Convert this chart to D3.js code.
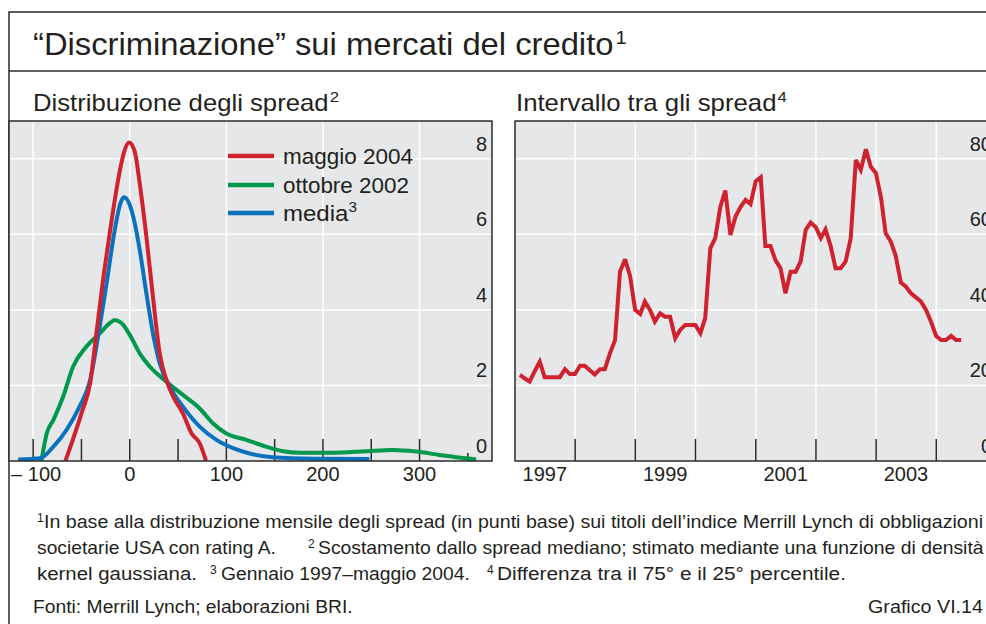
<!DOCTYPE html>
<html>
<head>
<meta charset="utf-8">
<script src="https://cdn.jsdelivr.net/npm/d3@7"></script>
<style>
  html, body { margin: 0; padding: 0; background: #ffffff; }
  svg { display: block; }
  text { font-family: "Liberation Sans", Arial, sans-serif; fill: #231f20; }
</style>
</head>
<body>
<svg id="chart" width="986" height="624"></svg>
<script>
// ---------------- DATA ----------------
// Left panel: kernel density of spreads (deviation from median, bp)
const mayX   = [-66.6, -50, -41, -34.5, -27.6, -20.7, -12, -6.2, -0.7, 5.2, 10.3, 17.2, 24, 31, 38, 45, 55, 64, 72.4, 79];
const mayY   = [0, 1.26, 2.06, 3.38, 4.8, 6.03, 7.44, 8.15, 8.43, 8.19, 7.35, 5.94, 4.35, 2.85, 2.14, 1.70, 1.26, 0.73, 0.47, 0];

const octX   = [-91.4, -86, -79, -69, -58.6, -44.8, -31, -20.7, -15.5, -8.6, 0, 10.3, 20.7, 38, 55, 72.4, 86, 100, 120.7, 141, 158.6, 176, 210, 245, 272, 296.5, 320.7, 341, 358.6];
const octY   = [0, 0.73, 1.09, 1.70, 2.50, 3.03, 3.38, 3.65, 3.73, 3.65, 3.34, 2.85, 2.50, 2.10, 1.75, 1.39, 1.00, 0.73, 0.56, 0.38, 0.26, 0.22, 0.22, 0.26, 0.29, 0.25, 0.16, 0.09, 0.04];

const avgX   = [-115.5, -93, -79, -65.5, -52, -41, -32.8, -24, -15.5, -9.7, -5.9, 0, 5.2, 10.3, 17.2, 24, 31, 41.4, 55, 72.4, 89.7, 107, 124, 148, 193, 248];
const avgY   = [0.04, 0.07, 0.38, 0.82, 1.44, 2.14, 3.29, 4.70, 6.12, 6.82, 6.98, 6.78, 6.29, 5.59, 4.44, 3.38, 2.59, 1.97, 1.44, 0.91, 0.56, 0.34, 0.20, 0.10, 0.06, 0.05];

const seriesNames = ["maggio 2004", "ottobre 2002", "media"];
const leftXTicks  = [-100, -50, 0, 50, 100, 150, 200, 250, 300, 350];
const leftXLabels = [-100, 0, 100, 200, 300];
const leftYTicks  = [0, 2, 4, 6, 8];

// Right panel: interquartile range of spreads, monthly Jan 1997 - May 2004
const iqrStart = [1997, 0];
const iqrValues = [
  22.8, 21.9, 21.0, 23.7, 26.3, 22.2, 22.2, 22.2, 22.2, 24.3, 23.0, 23.0,   // 1997
  25.2, 25.2, 24.0, 22.9, 24.3, 24.3, 28.5, 32.0, 50.1, 53.4, 49.0, 40.0,   // 1998
  38.9, 42.2, 40.0, 36.9, 39.1, 38.2, 38.2, 32.5, 34.7, 36.0, 36.0, 36.0,   // 1999
  33.8, 37.8, 56.3, 59.0, 67.3, 71.6, 59.8, 64.7, 67.2, 69.1, 68.0, 74.0,   // 2000
  75.1, 56.9, 56.9, 53.2, 51.0, 44.4, 50.1, 50.1, 52.8, 61.2, 63.1, 61.9,   // 2001
  59.0, 61.3, 56.9, 51.0, 51.0, 52.8, 59.0, 79.7, 77.1, 82.5, 77.9, 76.2,   // 2002
  69.6, 60.3, 58.1, 54.3, 47.2, 46.2, 44.4, 43.3, 42.2, 40.0, 36.9, 33.1,   // 2003
  32.0, 32.0, 33.1, 32.0, 32.0                                              // 2004
];
const rightYTicks  = [0, 20, 40, 60, 80];
const yearLabels   = [1997, 1999, 2001, 2003];

// ---------------- DRAW ----------------
const svg = d3.select("#chart");
const INK = "#2b2b2b";
const PANEL = "#e6e7e9";
const colors = ["#d0222e", "#00984a", "#0a72bc"];

// fit a text element horizontally to a target width
function fitWidth(sel, x0, target) {
  const w = sel.node().getComputedTextLength();
  if (w > 0) {
    const s = target / w;
    sel.attr("transform", `translate(${x0},0) scale(${s},1) translate(${-x0},0)`);
  }
}

// outer frame
svg.append("path")
  .attr("d", "M9,630 L9,12 L990,12 M9,71 L990,71")
  .attr("fill", "none").attr("stroke", INK).attr("stroke-width", 1.5);

// title
const title = svg.append("text").attr("x", 33).attr("y", 55).attr("font-size", 31);
title.append("tspan").text("\u201CDiscriminazione\u201D sui mercati del credito");
title.append("tspan").attr("font-size", 19).attr("dy", -11).attr("dx", 2).text("1");
fitWidth(title, 33, 592);

// panel subtitles
function subtitle(x, txt, sup, w) {
  const t = svg.append("text").attr("x", x).attr("y", 111).attr("font-size", 23);
  t.append("tspan").text(txt);
  t.append("tspan").attr("font-size", 15).attr("dy", -9).attr("dx", 1).text(sup);
  fitWidth(t, x, w);
}
subtitle(33, "Distribuzione degli spread", "2", 305);
subtitle(516, "Intervallo tra gli spread", "4", 270);

// ---------- LEFT PANEL ----------
const L = {x0: 9, x1: 492, y0: 121, y1: 461};
const xL = d3.scaleLinear().domain([-125, 375]).range([L.x0, L.x1]);
const yL = d3.scaleLinear().domain([0, 9]).range([L.y1, L.y0]);

svg.append("rect").attr("x", L.x0).attr("y", L.y0).attr("width", L.x1 - L.x0).attr("height", L.y1 - L.y0).attr("fill", PANEL);
svg.append("clipPath").attr("id", "clipL").append("rect")
  .attr("x", L.x0).attr("y", L.y0).attr("width", L.x1 - L.x0).attr("height", L.y1 - L.y0);

const gL = svg.append("g").attr("clip-path", "url(#clipL)");
// gridlines
gL.selectAll(".vg").data(leftXLabels).enter().append("line")
  .attr("x1", d => xL(d)).attr("x2", d => xL(d)).attr("y1", L.y0).attr("y2", L.y1)
  .attr("stroke", "#fff").attr("stroke-width", 1.5);
gL.selectAll(".hg").data(leftYTicks.filter(d => d > 0)).enter().append("line")
  .attr("x1", L.x0).attr("x2", L.x1).attr("y1", d => yL(d)).attr("y2", d => yL(d))
  .attr("stroke", "#fff").attr("stroke-width", 1.5);
// ticks
gL.selectAll(".tk").data(leftXTicks).enter().append("line")
  .attr("x1", d => xL(d)).attr("x2", d => xL(d))
  .attr("y1", d => d === 350 ? L.y1 - 8 : L.y1 - 22).attr("y2", L.y1)
  .attr("stroke", INK).attr("stroke-width", 1.5);

const densLine = d3.line().x(d => xL(d[0])).y(d => yL(d[1])).curve(d3.curveMonotoneX);
const zip = (a, b) => a.map((v, i) => [v, b[i]]);
const dens = [zip(mayX, mayY), zip(octX, octY), zip(avgX, avgY)];
const drawOrder = [1, 2, 0];
drawOrder.forEach(i => {
  gL.append("path").datum(dens[i]).attr("d", densLine)
    .attr("fill", "none").attr("stroke", colors[i]).attr("stroke-width", 4)
    .attr("stroke-linejoin", "round").attr("stroke-linecap", "butt");
});

// y labels
svg.selectAll(".yl").data(leftYTicks).enter().append("text")
  .attr("x", 487).attr("y", d => yL(d) - 8).attr("text-anchor", "end").attr("font-size", 20)
  .text(d => d);

// legend
const legY = [156, 185, 213];
const legW = [130, 126, 74];
seriesNames.forEach((n, i) => {
  svg.append("line").attr("x1", 228).attr("x2", 274).attr("y1", legY[i]).attr("y2", legY[i])
    .attr("stroke", colors[i]).attr("stroke-width", 4.5);
  const t = svg.append("text").attr("x", 283).attr("y", legY[i] + 8).attr("font-size", 22);
  t.append("tspan").text(n);
  if (i === 2) t.append("tspan").attr("font-size", 14).attr("dy", -9).text("3");
  fitWidth(t, 283, legW[i]);
});

svg.append("rect").attr("x", L.x0).attr("y", L.y0).attr("width", L.x1 - L.x0).attr("height", L.y1 - L.y0)
  .attr("fill", "none").attr("stroke", INK).attr("stroke-width", 1.5);

// x labels
svg.selectAll(".xl").data(leftXLabels).enter().append("text")
  .attr("x", d => xL(d) + (d < 0 ? 3 : 0)).attr("y", 481).attr("text-anchor", "middle").attr("font-size", 20)
  .text(d => d < 0 ? "\u2013 " + Math.abs(d) : d);

// ---------- RIGHT PANEL ----------
const R = {x0: 515, x1: 997, y0: 121, y1: 461};
const xR = d3.scaleTime().domain([new Date(1997, 0, 1), new Date(2005, 0, 1)]).range([515, 996.6]);
const yR = d3.scaleLinear().domain([0, 90]).range([R.y1, R.y0]);

svg.append("rect").attr("x", R.x0).attr("y", R.y0).attr("width", R.x1 - R.x0).attr("height", R.y1 - R.y0).attr("fill", PANEL);
svg.append("clipPath").attr("id", "clipR").append("rect")
  .attr("x", R.x0).attr("y", R.y0).attr("width", R.x1 - R.x0).attr("height", R.y1 - R.y0);
const gR = svg.append("g").attr("clip-path", "url(#clipR)");

const yearTicks = d3.range(1998, 2005).map(y => new Date(y, 0, 1));
gR.selectAll(".vg").data(yearTicks).enter().append("line")
  .attr("x1", d => xR(d)).attr("x2", d => xR(d)).attr("y1", R.y0).attr("y2", R.y1)
  .attr("stroke", "#fff").attr("stroke-width", 1.5);
gR.selectAll(".hg").data(rightYTicks.filter(d => d > 0)).enter().append("line")
  .attr("x1", R.x0).attr("x2", R.x1).attr("y1", d => yR(d)).attr("y2", d => yR(d))
  .attr("stroke", "#fff").attr("stroke-width", 1.5);
gR.selectAll(".tk").data(yearTicks).enter().append("line")
  .attr("x1", d => xR(d)).attr("x2", d => xR(d)).attr("y1", R.y1 - 22).attr("y2", R.y1)
  .attr("stroke", INK).attr("stroke-width", 1.5);

const iqr = iqrValues.map((v, i) => [new Date(iqrStart[0], iqrStart[1] + i + 1, 0), v]);
gR.append("path").datum(iqr)
  .attr("d", d3.line().x(d => xR(d[0])).y(d => yR(d[1])))
  .attr("fill", "none").attr("stroke", colors[0]).attr("stroke-width", 4)
  .attr("stroke-linejoin", "miter").attr("stroke-miterlimit", 3);

svg.selectAll(".yr").data(rightYTicks).enter().append("text")
  .attr("x", 992).attr("y", d => yR(d) - 8).attr("text-anchor", "end").attr("font-size", 20)
  .text(d => d);

svg.append("rect").attr("x", R.x0).attr("y", R.y0).attr("width", R.x1 - R.x0).attr("height", R.y1 - R.y0)
  .attr("fill", "none").attr("stroke", INK).attr("stroke-width", 1.5);

svg.selectAll(".xr").data(yearLabels).enter().append("text")
  .attr("x", d => xR(new Date(d, 6, 1))).attr("y", 481).attr("text-anchor", "middle").attr("font-size", 20)
  .text(d => d);

// ---------- FOOTNOTES ----------
function seg(x, y, txt, w, anchor) {
  const t = svg.append("text").attr("x", x).attr("y", y).attr("font-size", 17.5).text(txt);
  if (anchor) t.attr("text-anchor", anchor);
  if (w) fitWidth(t, x, w);
  return t;
}
function sup(x, y, txt) {
  svg.append("text").attr("x", x).attr("y", y - 6).attr("font-size", 12).text(txt);
}
sup(37, 528, "1");
seg(44, 528, "In base alla distribuzione mensile degli spread (in punti base) sui titoli dell\u2019indice Merrill Lynch di obbligazioni", 940);
seg(37, 554, "societarie USA con rating A.", 239);
sup(308, 554, "2");
seg(318, 554, "Scostamento dallo spread mediano; stimato mediante una funzione di densit\u00E0", 666);
seg(37, 580, "kernel gaussiana.", 160);
sup(210, 580, "3");
seg(221, 580, "Gennaio 1997\u2013maggio 2004.", 249);
sup(487, 580, "4");
seg(497, 580, "Differenza tra il 75\u00B0 e il 25\u00B0 percentile.", 349);
seg(33, 613, "Fonti: Merrill Lynch; elaborazioni BRI.", 320);
seg(983, 613, "Grafico VI.14", 115, "end");
</script>
</body>
</html>
